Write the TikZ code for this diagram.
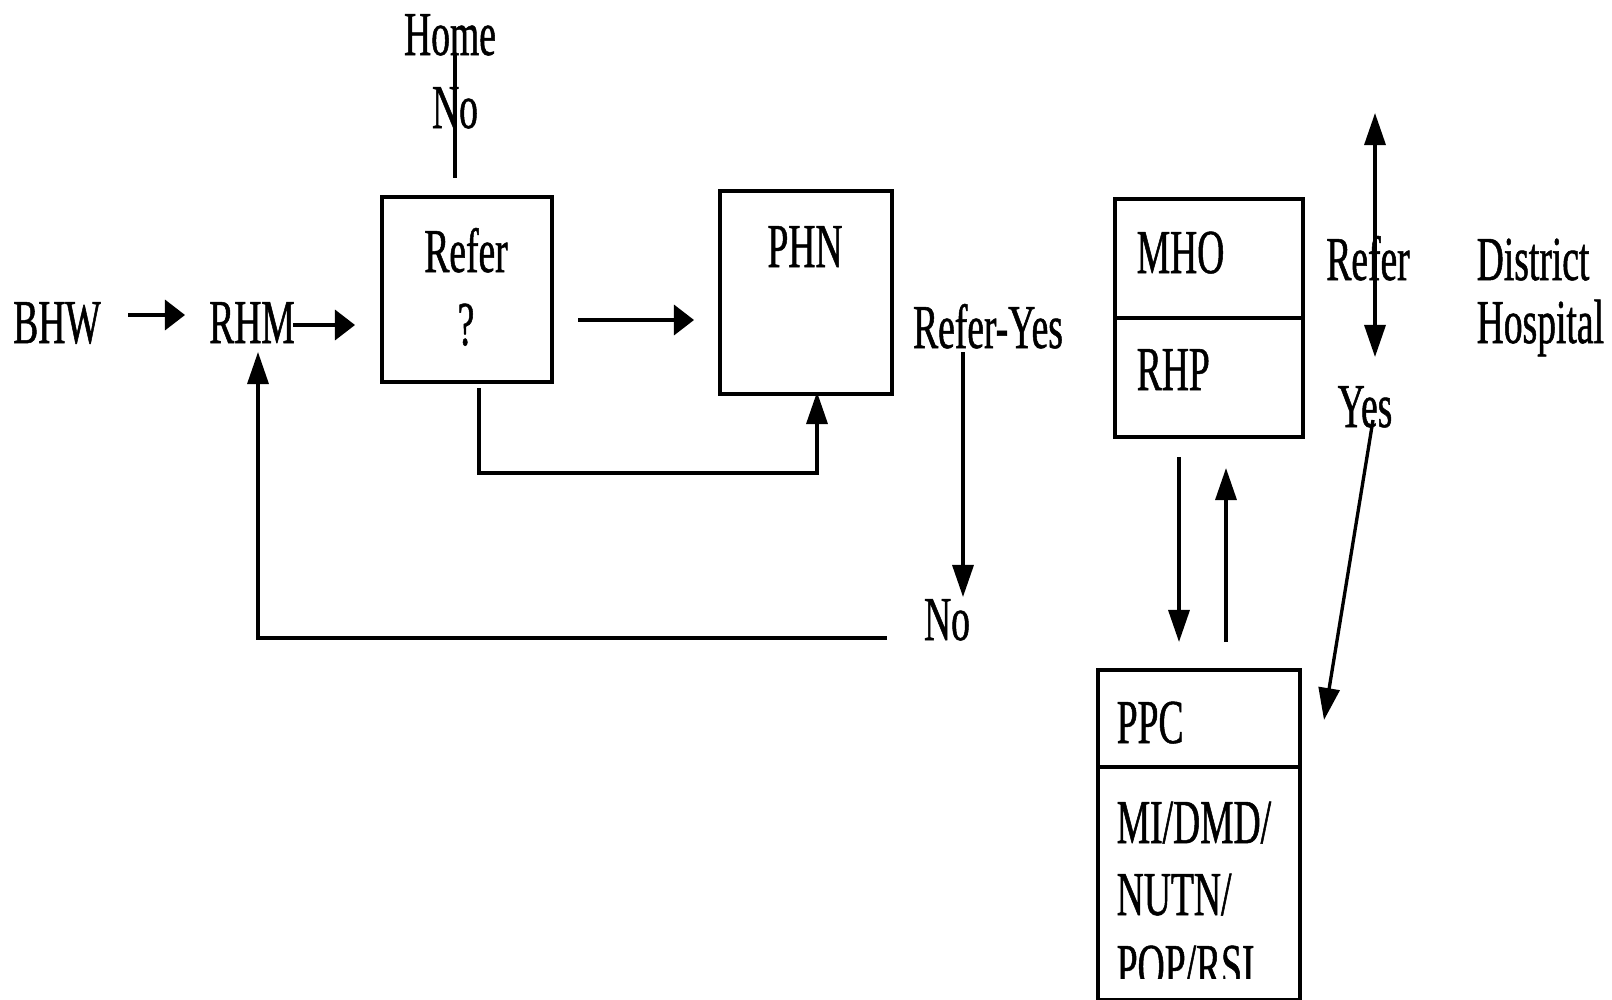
\documentclass[tikz,border=0pt]{standalone}
\usepackage{fontspec}
\setmainfont[FakeStretch=0.6,FakeBold=0.8]{Liberation Serif}
\usetikzlibrary{arrows.meta}
\begin{document}
\begin{tikzpicture}[x=0.01cm,y=-0.01cm,
  lbl/.style={anchor=base,inner sep=0pt,font=\fontsize{17.8}{20}\selectfont},
  lbll/.style={anchor=base west,inner sep=0pt,font=\fontsize{17.8}{20}\selectfont},
  boxnode/.style={draw,line width=1.05pt,inner sep=0pt,anchor=north west},
  conn/.style={line width=0.95pt},
  harr/.style={conn,-{Triangle[length=0.2cm,width=0.3cm]}},
  varr/.style={conn,-{Triangle[length=0.32cm,width=0.21cm]}},
  dvarr/.style={conn,{Triangle[length=0.32cm,width=0.21cm]}-{Triangle[length=0.32cm,width=0.21cm]}}]
\useasboundingbox (0,0) rectangle (1612,1000);
% boxes
\node[boxnode,minimum width=1.70cm,minimum height=1.85cm] (refbox) at (380,195) {};
\node[boxnode,minimum width=1.72cm,minimum height=2.03cm] (phn) at (718,189) {};
\node[boxnode,minimum width=1.88cm,minimum height=1.19cm] (mho) at (1113,197) {};
\node[boxnode,minimum width=1.88cm,minimum height=1.19cm] (rhp) at (1113,316) {};
\node[boxnode,minimum width=2.02cm,minimum height=0.97cm] (ppc) at (1096,668) {};
\node[boxnode,minimum width=2.02cm,minimum height=2.33cm] (prog) at (1096,765) {};
% texts
\node[lbl] (bhw) at (57,343) {BHW};
\node[lbl] (rhm) at (252,343) {RHM};
\node[lbl] (home) at (450,55) {Home};
\node[lbl] (hno) at (455,128) {No};
\node[lbl] (refer) at (466,272) {Refer};
\node[lbl] (q) at (466,345) {?};
\node[lbl] (phnt) at (805,267) {PHN};
\node[lbl] (referyes) at (988,348) {Refer-Yes};
\node[lbl] (no) at (947,640) {No};
\node[lbll] (mhot) at (1136,273) {MHO};
\node[lbll] (rhpt) at (1136,390) {RHP};
\node[lbl] (refer2) at (1368,280) {Refer};
\node[lbl] (yes) at (1365,427) {Yes};
\node[lbll] (district) at (1476,280) {District};
\node[lbll] (hospital) at (1476,343) {Hospital};
\node[lbll] (ppct) at (1116,743) {PPC};
\node[lbll] (midmd) at (1116,843) {MI/DMD/};
\node[lbll] (nutn) at (1116,915) {NUTN/};
\begin{scope}
\clip (1096,765) rectangle (1298,978);
\node[lbll] (poprsi) at (1116,987) {POP/RSI};
\end{scope}
% connector end points
\coordinate (a1s) at (128,315);
\coordinate (a1e) at (185,315);
\coordinate (a2s) at (293,325);
\coordinate (a2e) at (355,325);
\coordinate (hl1) at (455,55);
\coordinate (hl2) at (455,178);
\coordinate (a3s) at (578,320);
\coordinate (a3e) at (694,320);
\coordinate (b1) at (479,388);
\coordinate (b2) at (479,473);
\coordinate (b3) at (817,473);
\coordinate (b4) at (817,392);
\coordinate (c1) at (963,352);
\coordinate (c2) at (963,597);
\coordinate (d1) at (887,638);
\coordinate (d2) at (258,638);
\coordinate (d3) at (258,352);
\coordinate (e1) at (1375,113);
\coordinate (e2) at (1375,357);
\coordinate (f1) at (1373,420);
\coordinate (f2) at (1324,720);
\coordinate (g1) at (1179,457);
\coordinate (g2) at (1179,642);
\coordinate (h1) at (1226,642);
\coordinate (h2) at (1226,468);
% connectors
\draw[harr] (a1s) -- (a1e);
\draw[harr] (a2s) -- (a2e);
\draw[conn] (hl1) -- (hl2);
\draw[harr] (a3s) -- (a3e);
\draw[varr] (b1) -- (b2) -- (b3) -- (b4);
\draw[varr] (c1) -- (c2);
\draw[varr] (d1) -- (d2) -- (d3);
\draw[dvarr] (e1) -- (e2);
\draw[varr] (f1) -- (f2);
\draw[varr] (g1) -- (g2);
\draw[varr] (h1) -- (h2);
\end{tikzpicture}
\end{document}
